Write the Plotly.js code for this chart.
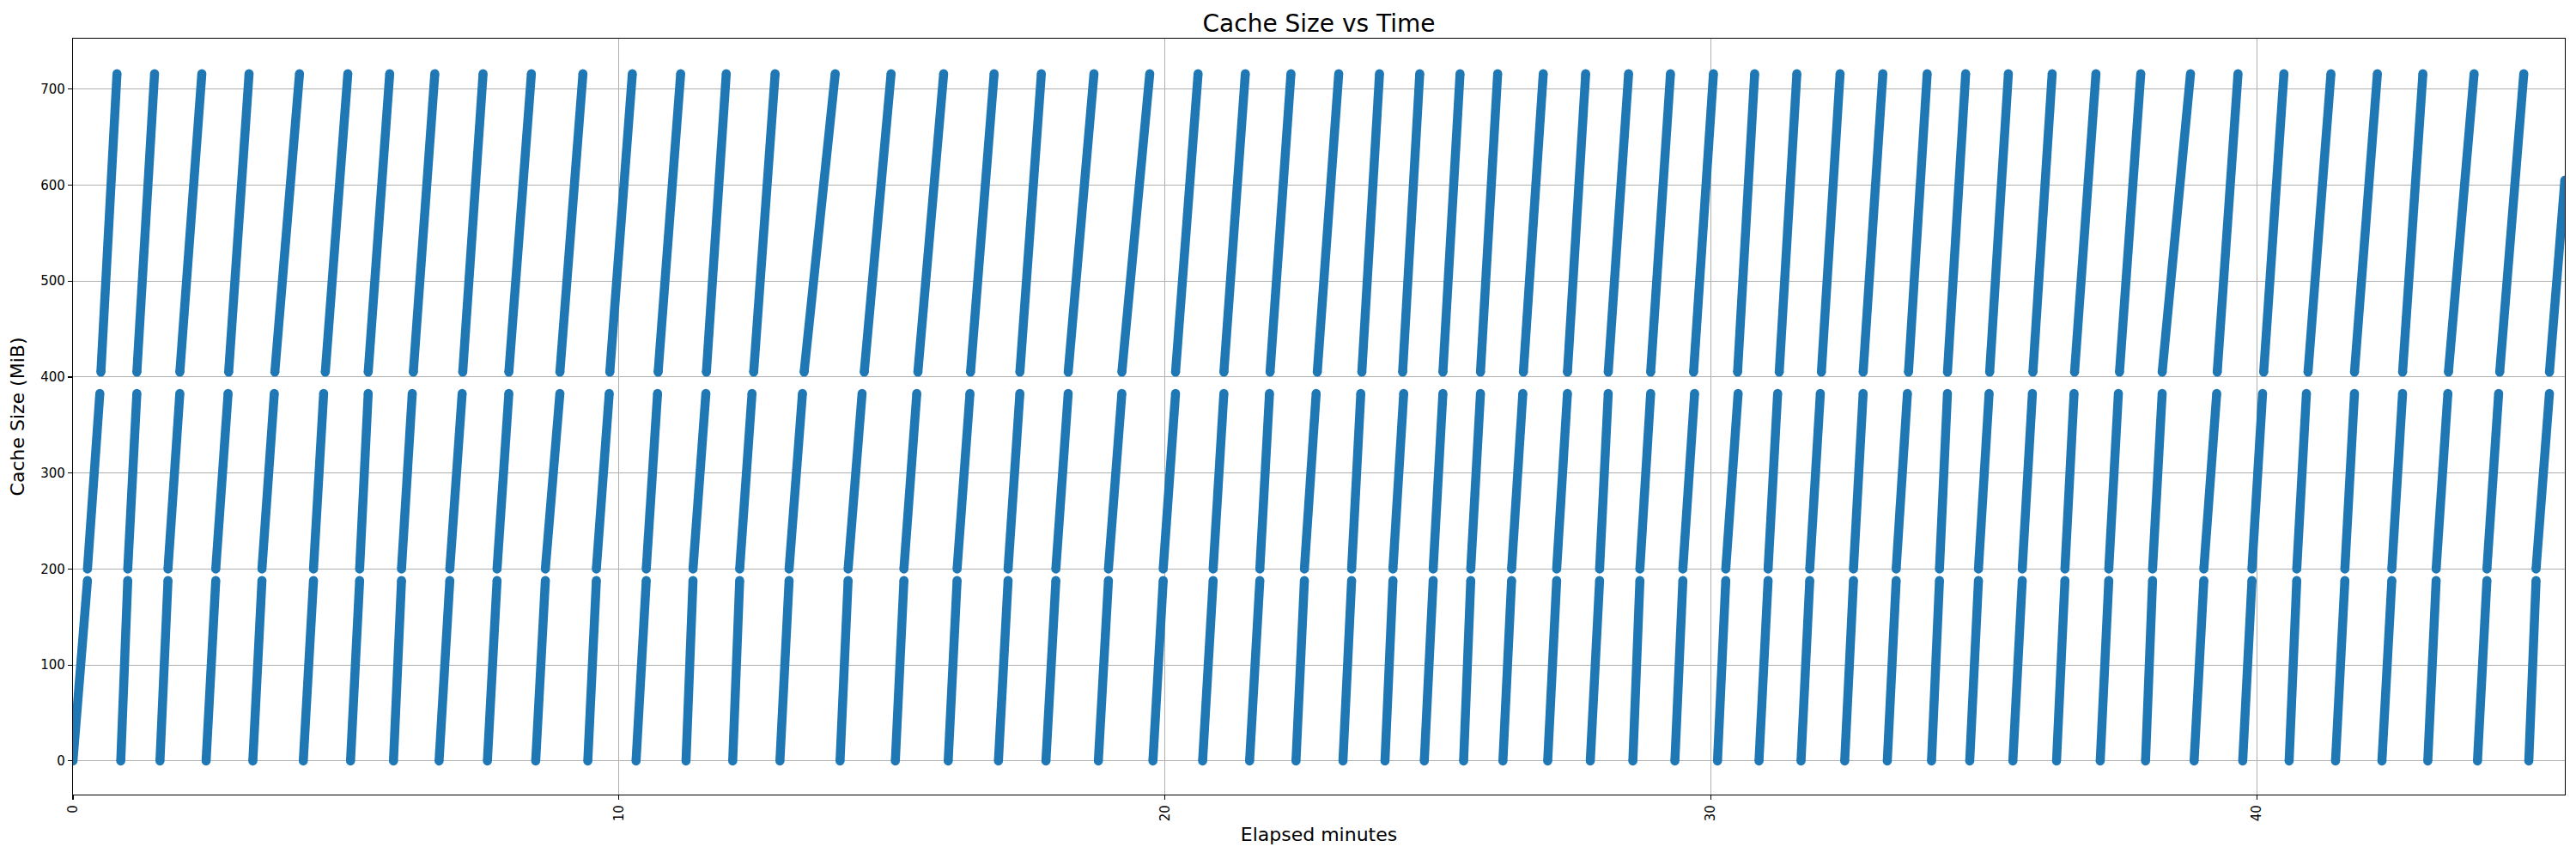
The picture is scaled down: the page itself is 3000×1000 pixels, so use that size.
<!DOCTYPE html>
<html>
<head>
<meta charset="utf-8">
<script src="https://cdn.plot.ly/plotly-3.0.1.min.js"></script>
<style>html,body{margin:0;padding:0;background:#fff;}#chart{width:3000px;height:1000px;}</style>
</head>
<body>
<div id="chart"></div>
<script>
// Elapsed minutes where each fill segment starts / ends
const bottomStart = [0.00, 0.875, 1.593, 2.438, 3.294, 4.218, 5.083, 5.870, 6.705, 7.590, 8.475, 9.429, 10.313, 11.228, 12.083, 12.948, 14.049, 15.062, 16.03, 16.95, 17.82, 18.78, 19.78, 20.69, 21.55, 22.40, 23.26, 24.03, 24.75, 25.47, 26.19, 27.01, 27.79, 28.57, 29.34, 30.12, 30.88, 31.65, 32.45, 33.23, 34.04, 34.74, 35.53, 36.33, 37.13, 37.96, 38.85, 39.74, 40.59, 41.44, 42.29, 43.13, 44.04, 44.98];
const bottomEnd = [0.265, 1.003, 1.740, 2.615, 3.461, 4.405, 5.250, 6.017, 6.902, 7.767, 8.652, 9.586, 10.500, 11.356, 12.211, 13.116, 14.197, 15.219, 16.193, 17.127, 18.002, 18.965, 19.968, 20.883, 21.738, 22.554, 23.419, 24.176, 24.913, 25.601, 26.349, 27.175, 27.961, 28.699, 29.486, 30.272, 31.047, 31.810, 32.611, 33.393, 34.186, 34.900, 35.702, 36.484, 37.287, 38.089, 39.028, 39.909, 40.730, 41.611, 42.471, 43.283, 44.213, 45.113];
const middleStart = [0.265, 1.003, 1.740, 2.615, 3.461, 4.405, 5.250, 6.017, 6.902, 7.767, 8.652, 9.586, 10.500, 11.356, 12.211, 13.116, 14.197, 15.219, 16.193, 17.127, 18.002, 18.965, 19.968, 20.883, 21.738, 22.554, 23.419, 24.176, 24.913, 25.601, 26.349, 27.175, 27.961, 28.699, 29.486, 30.272, 31.047, 31.810, 32.611, 33.393, 34.186, 34.900, 35.702, 36.484, 37.287, 38.089, 39.028, 39.909, 40.730, 41.611, 42.471, 43.283, 44.213, 45.113];
const middleEnd = [0.492, 1.170, 1.957, 2.841, 3.687, 4.591, 5.407, 6.214, 7.128, 7.983, 8.918, 9.822, 10.707, 11.592, 12.437, 13.361, 14.453, 15.455, 16.429, 17.343, 18.228, 19.211, 20.194, 21.079, 21.915, 22.770, 23.587, 24.373, 25.091, 25.779, 26.555, 27.372, 28.119, 28.896, 29.701, 30.498, 31.222, 32.004, 32.788, 33.599, 34.332, 35.095, 35.888, 36.651, 37.463, 38.265, 39.264, 40.104, 40.907, 41.787, 42.668, 43.498, 44.428, 45.358];
const topStart = [0.511, 1.170, 1.957, 2.851, 3.697, 4.621, 5.407, 6.233, 7.138, 7.983, 8.918, 9.832, 10.717, 11.601, 12.467, 13.391, 14.492, 15.475, 16.439, 17.343, 18.228, 19.211, 20.194, 21.079, 21.925, 22.790, 23.606, 24.353, 25.091, 25.779, 26.565, 27.372, 28.119, 28.896, 29.682, 30.488, 31.251, 32.023, 32.788, 33.618, 34.332, 35.105, 35.897, 36.660, 37.483, 38.265, 39.273, 40.124, 40.936, 41.787, 42.668, 43.508, 44.447, 45.358];
const topEnd = [0.806, 1.494, 2.360, 3.225, 4.149, 5.034, 5.801, 6.627, 7.511, 8.396, 9.340, 10.245, 11.130, 11.965, 12.860, 13.961, 14.984, 15.947, 16.871, 17.736, 18.700, 19.722, 20.607, 21.472, 22.308, 23.183, 23.930, 24.667, 25.405, 26.094, 26.929, 27.706, 28.492, 29.259, 30.046, 30.801, 31.574, 32.366, 33.149, 33.961, 34.666, 35.448, 36.250, 37.052, 37.873, 38.784, 39.654, 40.495, 41.356, 42.207, 43.040, 43.978, 44.888, 45.64];

// Cache size (MiB) at the start / end of each band's segments
const bottomLowMiB = 0, bottomHighMiB = 188;
const middleLowMiB = 200, middleHighMiB = 383;
const topLowMiB = 405, topHighMiB = 716;
const lastTopMiB = 605;   // final segment is cut off by the end of the recording

const xTicks = [0, 10, 20, 30, 40];
const yTicks = [0, 100, 200, 300, 400, 500, 600, 700];
const xMax = 45.64;

function bandXY(starts, ends, lo, hi, lastHi) {
  const x = [], y = [];
  for (let i = 0; i < starts.length; i++) {
    x.push(starts[i], ends[i], null);
    const h = (lastHi !== undefined && i === starts.length - 1) ? lastHi : hi;
    y.push(lo, h, null);
  }
  return {x, y};
}

const color = '#1f77b4';
function band(d) {
  return {
    type: 'scatter', mode: 'lines+markers', x: d.x, y: d.y,
    connectgaps: false, showlegend: false, hoverinfo: 'x+y',
    line: {color: color, width: 10.5},
    marker: {color: color, size: 10.5, line: {width: 0}}
  };
}

const traces = [
  band(bandXY(bottomStart, bottomEnd, bottomLowMiB, bottomHighMiB)),
  band(bandXY(middleStart, middleEnd, middleLowMiB, middleHighMiB)),
  band(bandXY(topStart, topEnd, topLowMiB, topHighMiB, lastTopMiB))
];

const font = {family: 'DejaVu Sans, sans-serif', color: '#000'};
const layout = {
  width: 3000, height: 1000,
  paper_bgcolor: '#fff', plot_bgcolor: '#fff',
  margin: {l: 85, r: 13, t: 45, b: 75, pad: 0},
  font: Object.assign({size: 15}, font),
  title: {text: 'Cache Size vs Time', font: Object.assign({size: 28}, font),
          x: 0.5, xref: 'paper', xanchor: 'center', y: 0.973, yref: 'container', yanchor: 'middle'},
  xaxis: {
    range: [0, xMax], tickvals: xTicks, ticktext: xTicks.map(String), tickangle: -90,
    title: {text: 'Elapsed minutes', font: Object.assign({size: 22}, font), standoff: 8},
    showgrid: true, gridcolor: '#b0b0b0', gridwidth: 1, zeroline: false,
    showline: true, linecolor: '#000', linewidth: 1.2, mirror: true,
    ticks: 'outside', ticklen: 5, tickwidth: 1.2, tickcolor: '#000',
    tickfont: Object.assign({size: 15}, font), automargin: false
  },
  yaxis: {
    range: [-35, 752.5], tickvals: yTicks, ticktext: yTicks.map(String),
    title: {text: 'Cache Size (MiB)', font: Object.assign({size: 22}, font), standoff: 12},
    showgrid: true, gridcolor: '#b0b0b0', gridwidth: 1, zeroline: false,
    showline: true, linecolor: '#000', linewidth: 1.2, mirror: true,
    ticks: 'outside', ticklen: 5, tickwidth: 1.2, tickcolor: '#000',
    tickfont: Object.assign({size: 15}, font), automargin: false
  }
};

Plotly.newPlot('chart', traces, layout, {staticPlot: true, displayModeBar: false});
</script>
</body>
</html>
